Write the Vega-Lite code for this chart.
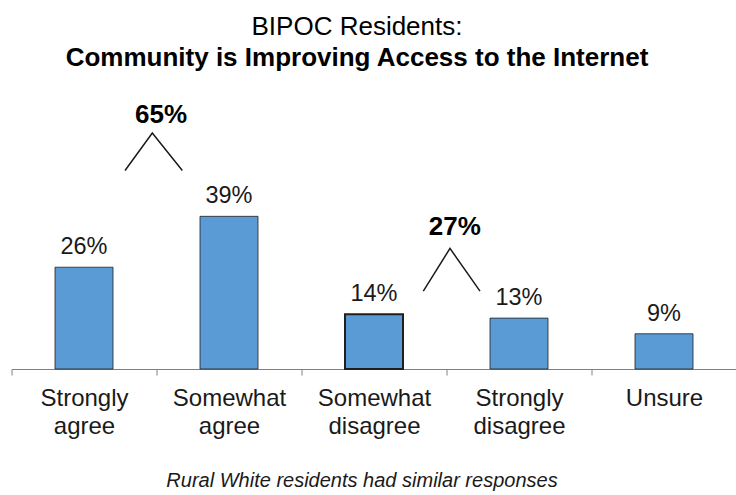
{
  "$schema": "https://vega.github.io/schema/vega-lite/v6.json",
  "width": 725,
  "height": 274,
  "autosize": "none",
  "padding": {"left": 11.5, "top": 95, "right": 0, "bottom": 126},
  "background": "white",
  "config": {"view": {"stroke": null}, "font": "Liberation Sans"},
  "title": {
    "text": "BIPOC Residents:",
    "subtitle": "Community is Improving Access to the Internet",
    "fontSize": 26,
    "fontWeight": "normal",
    "color": "#000000",
    "font": "Liberation Sans",
    "subtitleFont": "Liberation Sans",
    "subtitleFontSize": 26,
    "subtitleFontWeight": "bold",
    "subtitleColor": "#000000",
    "subtitlePadding": 5,
    "offset": 24,
    "dx": -17,
    "anchor": "middle"
  },
  "datasets": {
    "bars": [
      {"response": "Strongly agree", "share": 0.26},
      {"response": "Somewhat agree", "share": 0.39},
      {"response": "Somewhat disagree", "share": 0.14},
      {"response": "Strongly disagree", "share": 0.13},
      {"response": "Unsure", "share": 0.09}
    ],
    "brackets": [
      {"group": "agree", "pos": 0.783, "level": 0.507},
      {"group": "agree", "pos": 0.971, "level": 0.603},
      {"group": "agree", "pos": 1.178, "level": 0.507},
      {"group": "disagree", "pos": 2.84, "level": 0.199},
      {"group": "disagree", "pos": 3.024, "level": 0.308},
      {"group": "disagree", "pos": 3.231, "level": 0.199}
    ],
    "totals": [
      {"label": "65%", "pos": 1.031, "level": 0.629},
      {"label": "27%", "pos": 3.057, "level": 0.342}
    ]
  },
  "layer": [
    {
      "data": {"name": "bars"},
      "mark": {"type": "bar", "width": {"band": 0.4}, "color": "#5B9BD5", "stroke": "#1f1f1f"},
      "encoding": {
        "x": {
          "field": "response",
          "type": "nominal",
          "sort": null,
          "scale": {"paddingInner": 0, "paddingOuter": 0},
          "axis": {
            "title": "Rural White residents had similar responses",
            "titleFontStyle": "italic",
            "titleFontWeight": "normal",
            "titleFontSize": 20,
            "titleColor": "#1a1a1a",
            "titleBaseline": "alphabetic",
            "titleY": 117,
            "titleX": 350,
            "labelAngle": 0,
            "labelFontSize": 24,
            "labelColor": "#1a1a1a",
            "labelLineHeight": 28.5,
            "labelExpr": "split(datum.label, ' ')",
            "labelPadding": 11,
            "labelLimit": 0,
            "tickBand": "extent",
            "tickSize": 6,
            "tickColor": "#808080",
            "tickWidth": 1,
            "domainColor": "#808080",
            "domainWidth": 1,
            "grid": false
          }
        },
        "y": {"field": "share", "type": "quantitative", "scale": {"domain": [0, 0.7], "nice": false}, "axis": null},
        "strokeWidth": {"condition": {"test": "datum.response === 'Somewhat disagree'", "value": 2}, "value": 0.8}
      }
    },
    {
      "data": {"name": "bars"},
      "mark": {"type": "text", "dy": -13, "baseline": "alphabetic", "fontSize": 23.5, "color": "#1a1a1a"},
      "encoding": {
        "x": {"field": "response", "type": "nominal", "sort": null, "axis": null},
        "y": {"field": "share", "type": "quantitative", "scale": {"domain": [0, 0.7], "nice": false}, "axis": null},
        "text": {"field": "share", "type": "quantitative", "format": ".0%"}
      }
    },
    {
      "data": {"name": "brackets"},
      "mark": {"type": "line", "color": "#1a1a1a", "strokeWidth": 1.5},
      "encoding": {
        "x": {"field": "pos", "type": "quantitative", "scale": {"domain": [0, 5], "nice": false, "zero": false}, "axis": null},
        "y": {"field": "level", "type": "quantitative", "scale": {"domain": [0, 0.7], "nice": false}, "axis": null},
        "detail": {"field": "group"}
      }
    },
    {
      "data": {"name": "totals"},
      "mark": {"type": "text", "fontSize": 26, "fontWeight": "bold", "baseline": "alphabetic", "color": "#000000"},
      "encoding": {
        "x": {"field": "pos", "type": "quantitative", "scale": {"domain": [0, 5], "nice": false, "zero": false}, "axis": null},
        "y": {"field": "level", "type": "quantitative", "scale": {"domain": [0, 0.7], "nice": false}, "axis": null},
        "text": {"field": "label"}
      }
    }
  ],
  "resolve": {"scale": {"x": "independent"}}
}
